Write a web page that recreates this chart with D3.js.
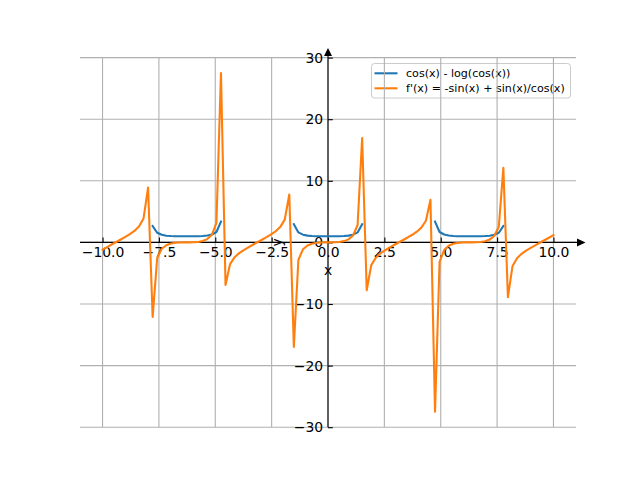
<!DOCTYPE html>
<html>
<head>
<meta charset="utf-8">
<script src="https://cdn.jsdelivr.net/npm/d3@7"></script>
<style>
  html, body { margin: 0; padding: 0; background: #fff; }
  svg { display: block; font-family: "DejaVu Sans", sans-serif; }
</style>
</head>
<body>
<div id="chart"></div>
<script>
"use strict";

/* ── Data ── */
const xValues = [
  -10.000, -9.798, -9.596, -9.394, -9.192, -8.990, -8.788, -8.586, -8.384, -8.182,
  -7.980, -7.778, -7.576, -7.374, -7.172, -6.970, -6.768, -6.566, -6.364, -6.162,
  -5.960, -5.758, -5.556, -5.354, -5.152, -4.949, -4.747, -4.545, -4.343, -4.141,
  -3.939, -3.737, -3.535, -3.333, -3.131, -2.929, -2.727, -2.525, -2.323, -2.121,
  -1.919, -1.717, -1.515, -1.313, -1.111, -0.909, -0.707, -0.505, -0.303, -0.101,
  0.101, 0.303, 0.505, 0.707, 0.909, 1.111, 1.313, 1.515, 1.717, 1.919,
  2.121, 2.323, 2.525, 2.727, 2.929, 3.131, 3.333, 3.535, 3.737, 3.939,
  4.141, 4.343, 4.545, 4.747, 4.949, 5.152, 5.354, 5.556, 5.758, 5.960,
  6.162, 6.364, 6.566, 6.768, 6.970, 7.172, 7.374, 7.576, 7.778, 7.980,
  8.182, 8.384, 8.586, 8.788, 8.990, 9.192, 9.394, 9.596, 9.798, 10.000
];

// cos(x) - log(cos(x)) : gaps where the curve is undefined
const cosLogValues = [
  null, null, null, null, null, null, null, null, null, null, null,
  2.651, 1.567, 1.234, 1.092, 1.030, 1.007, 1.001, 1.000, 1.000, 1.001,
  1.010, 1.039, 1.112, 1.280, 1.684, 3.385,
  null, null, null, null, null, null, null, null, null, null, null, null, null, null, null,
  2.945, 1.622, 1.256, 1.101, 1.034, 1.009, 1.001, 1.000,
  1.000, 1.001, 1.009, 1.034, 1.101, 1.256, 1.622, 2.945,
  null, null, null, null, null, null, null, null, null, null, null, null, null, null, null,
  3.385, 1.684, 1.280, 1.112, 1.039, 1.010, 1.001, 1.000, 1.000, 1.001,
  1.007, 1.030, 1.092, 1.234, 1.567, 2.651,
  null, null, null, null, null, null, null, null, null, null, null
];

// f'(x) = -sin(x) + sin(x)/cos(x)
const derivValues = [
  -1.192, -0.756, -0.343, 0.062, 0.468, 0.886, 1.334, 1.857, 2.570, 3.887,
  8.898, -12.101, -2.539, -1.033, -0.455, -0.186, -0.061, -0.012, 0.000, 0.001,
  0.017, 0.078, 0.226, 0.538, 1.224, 3.166, 27.494, -6.921, -3.519, -2.398,
  -1.741, -1.239, -0.799, -0.385, 0.021, 0.426, 0.842, 1.286, 1.798, 2.482,
  3.693, 7.772, -16.954, -2.828, -1.124, -0.495, -0.205, -0.069, -0.014, -0.001,
  0.001, 0.014, 0.069, 0.205, 0.495, 1.124, 2.828, 16.954, -7.772, -3.693,
  -2.482, -1.798, -1.286, -0.842, -0.426, -0.021, 0.385, 0.799, 1.239, 1.741,
  2.398, 3.519, 6.921, -27.494, -3.166, -1.224, -0.538, -0.226, -0.078, -0.017,
  -0.001, 0.000, 0.012, 0.061, 0.186, 0.455, 1.033, 2.539, 12.101, -8.898,
  -3.887, -2.570, -1.857, -1.334, -0.886, -0.468, -0.062, 0.343, 0.756, 1.192
];

const xTicks = [-10, -7.5, -5, -2.5, 0, 2.5, 5, 7.5, 10];
const yTicks = [-30, -20, -10, 0, 10, 20, 30];

const seriesNames  = ["cos(x) - log(cos(x))", "f'(x) = -sin(x) + sin(x)/cos(x)"];
const seriesColors = ["#1f77b4", "#ff7f0e"];

/* ── Dimensions ── */
const W = 640, H = 480;
const plot = { left: 80, right: 576, top: 57.6, bottom: 427.2 };
const tickLen = 4.86, fontPx = 13.9;

const svg = d3.select("#chart").append("svg")
  .attr("width", W).attr("height", H);

/* ── Scales ── */
const x = d3.scaleLinear().domain([-11, 11]).range([plot.left, plot.right]);
const y = d3.scaleLinear().domain([-30, 30]).range([plot.bottom, plot.top]);

const minus = s => s.replace("-", "\u2212");

/* ── Legend frame (grid shows through it in the reference) ── */
const legendG = svg.append("g").attr("transform", "translate(371.5,63.5)");
legendG.append("rect")
  .attr("width", 199).attr("height", 34.5).attr("rx", 3)
  .attr("fill", "#fff").attr("fill-opacity", 0.8)
  .attr("stroke", "#cccccc").attr("stroke-width", 1);

/* ── Gridlines ── */
const grid = svg.append("g").attr("stroke", "#b0b0b0").attr("stroke-width", 1.1);
grid.selectAll(".gx").data(xTicks).join("line")
  .attr("x1", d => x(d)).attr("x2", d => x(d))
  .attr("y1", plot.top).attr("y2", plot.bottom);
grid.selectAll(".gy").data(yTicks).join("line")
  .attr("x1", plot.left).attr("x2", plot.right)
  .attr("y1", d => y(d)).attr("y2", d => y(d));

/* ── Axes through the origin ── */
svg.append("g")
  .attr("transform", `translate(0,${y(0)})`)
  .call(d3.axisBottom(x).tickValues(xTicks).tickSize(-tickLen).tickPadding(tickLen)
    .tickFormat(d => minus(d3.format(".1f")(d))))
  .call(g => {
    g.select(".domain").remove();
    g.selectAll(".tick line").attr("stroke", "#000").attr("stroke-width", 1.1);
    g.selectAll(".tick text").attr("fill", "#000").attr("font-size", fontPx + "px")
      .attr("font-family", "DejaVu Sans");
  });

svg.append("g")
  .attr("transform", `translate(${x(0)},0)`)
  .call(d3.axisLeft(y).tickValues(yTicks).tickSize(-tickLen).tickPadding(tickLen)
    .tickFormat(d => minus(String(d))))
  .call(g => {
    g.select(".domain").remove();
    g.selectAll(".tick line").attr("stroke", "#000").attr("stroke-width", 1.1);
    g.selectAll(".tick text").attr("fill", "#000").attr("font-size", fontPx + "px")
      .attr("font-family", "DejaVu Sans");
  });

/* ── Axis lines with arrow heads ── */
const x0 = x(0), y0 = y(0);
svg.append("line").attr("x1", plot.left).attr("x2", 578).attr("y1", y0).attr("y2", y0)
  .attr("stroke", "#000").attr("stroke-width", 1.1);
svg.append("line").attr("x1", x0).attr("x2", x0).attr("y1", plot.bottom).attr("y2", 55)
  .attr("stroke", "#000").attr("stroke-width", 1.1);
svg.append("path")
  .attr("d", `M577,${y0 - 4}L585.5,${y0}L577,${y0 + 4}Z`).attr("fill", "#000");
svg.append("path")
  .attr("d", `M${x0 - 4},56L${x0},48L${x0 + 4},56Z`).attr("fill", "#000");

/* ── Axis labels ── */
svg.append("text")
  .attr("x", x0).attr("y", 274.5)
  .attr("text-anchor", "middle").attr("font-size", fontPx + "px")
  .text("x");

svg.append("text")
  .attr("transform", `translate(282,${y0}) rotate(-90)`)
  .attr("text-anchor", "middle").attr("font-size", fontPx + "px")
  .text("y");

/* ── Curves ── */
const rows = xValues.map((xv, i) => ({ x: xv, a: cosLogValues[i], b: derivValues[i] }));

const lineA = d3.line().defined(d => d.a != null).x(d => x(d.x)).y(d => y(d.a));
const lineB = d3.line().x(d => x(d.x)).y(d => y(d.b));

svg.append("path").datum(rows)
  .attr("d", lineA).attr("fill", "none")
  .attr("stroke", seriesColors[0]).attr("stroke-width", 2.08)
  .attr("stroke-linejoin", "round").attr("stroke-linecap", "square");

svg.append("path").datum(rows)
  .attr("d", lineB).attr("fill", "none")
  .attr("stroke", seriesColors[1]).attr("stroke-width", 2.08)
  .attr("stroke-linejoin", "round").attr("stroke-linecap", "square");

/* ── Legend entries ── */
seriesNames.forEach((name, i) => {
  const cy = 9.8 + i * 15;
  legendG.append("line")
    .attr("x1", 3).attr("x2", 26).attr("y1", cy).attr("y2", cy)
    .attr("stroke", seriesColors[i]).attr("stroke-width", 2.08);
  legendG.append("text")
    .attr("x", 34.5).attr("y", cy + 4)
    .attr("font-size", "11.1px").attr("fill", "#000")
    .text(name);
});
</script>
</body>
</html>
